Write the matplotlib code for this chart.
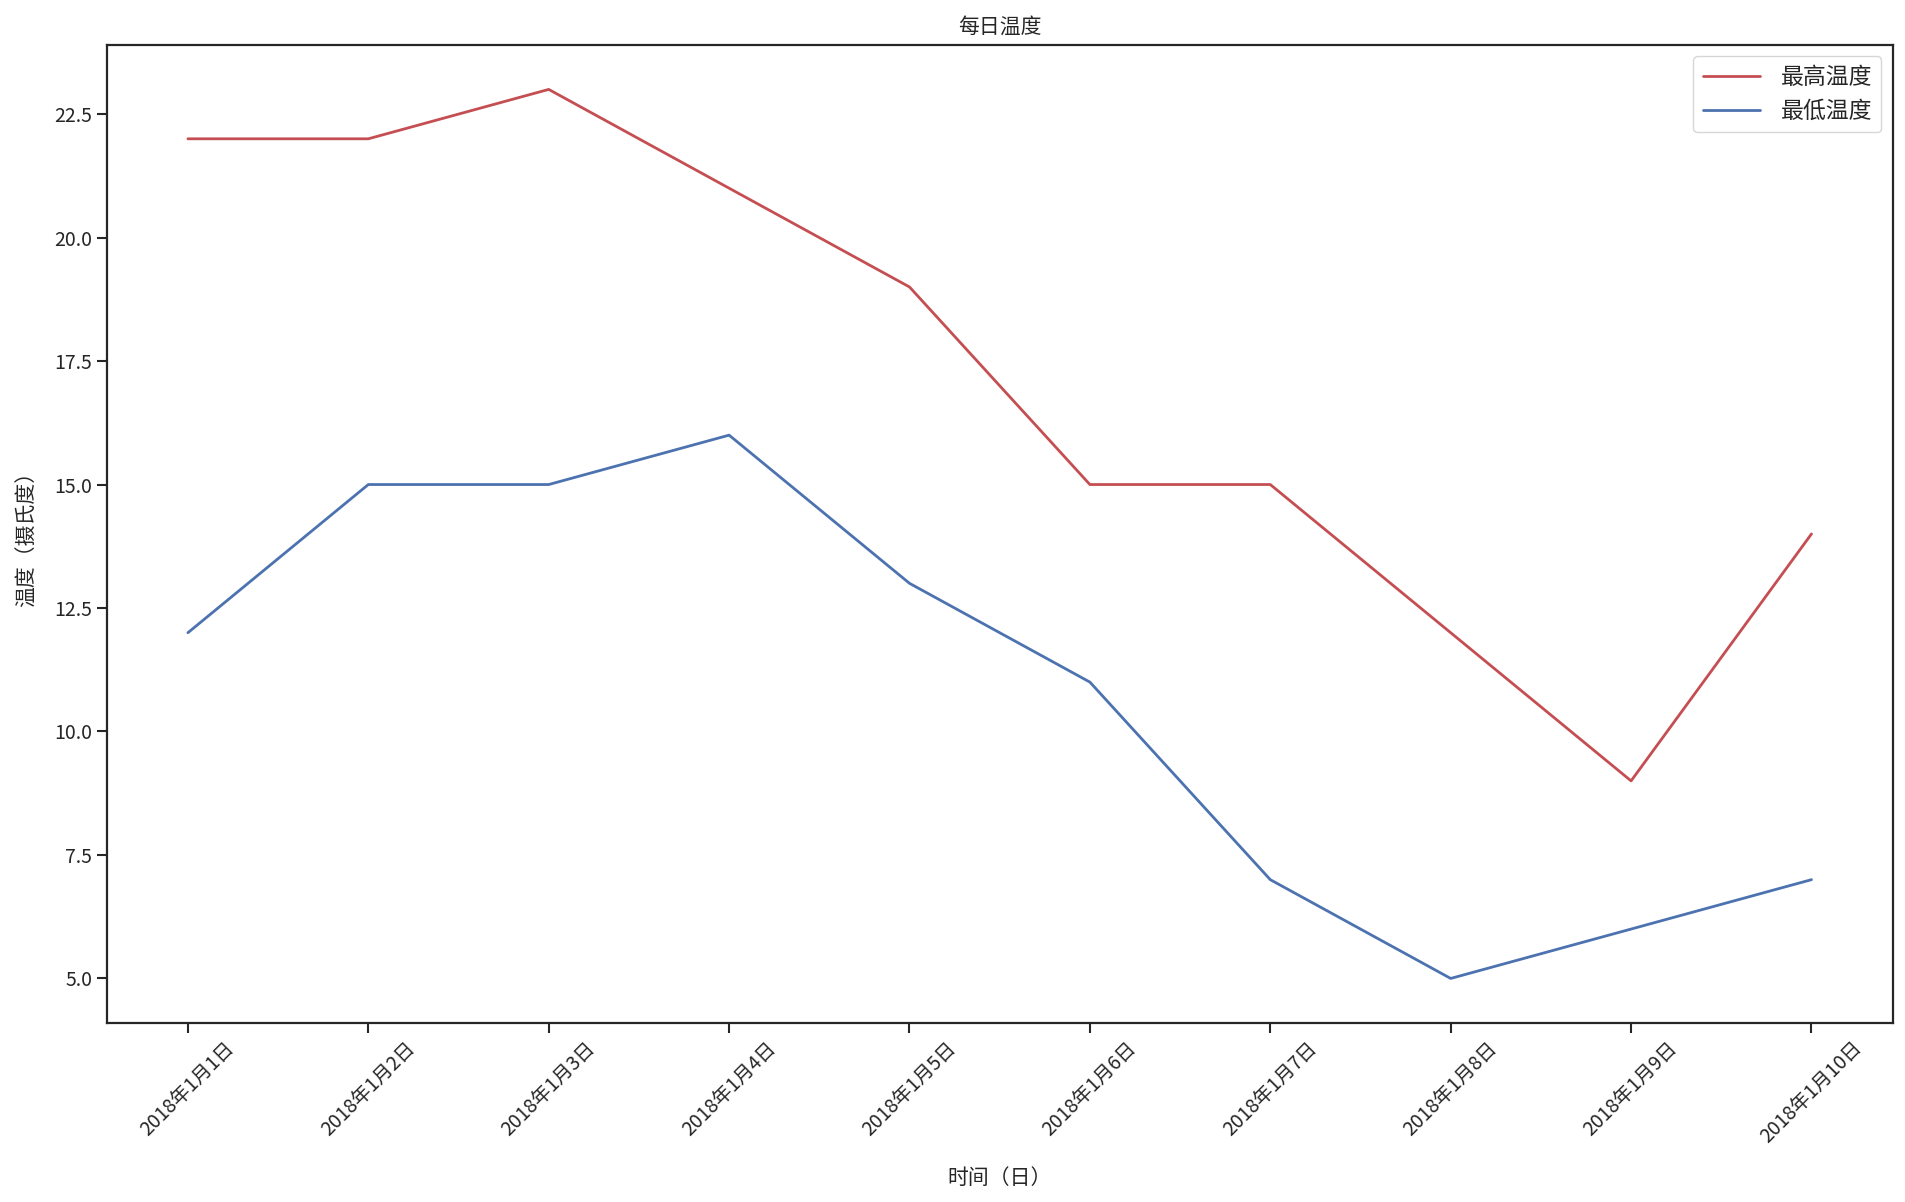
import matplotlib
matplotlib.use("Agg")
import matplotlib.pyplot as plt
import seaborn as sns

sns.set_style("ticks")
sns.set_color_codes()
plt.rcParams['font.family'] = ['Noto Sans CJK SC', 'DejaVu Sans']
plt.rcParams['axes.unicode_minus'] = False

days = ["2018年1月%d日" % d for d in range(1, 11)]
high_temp = [22, 22, 23, 21, 19, 15, 15, 12, 9, 14]
low_temp = [12, 15, 15, 16, 13, 11, 7, 5, 6, 7]

fig = plt.figure(figsize=(19.06, 12.02), dpi=100)
ax = fig.add_axes([0.056, 0.149, 0.937, 0.8136])

ax.plot(days, high_temp, 'r', lw=2, label='最高温度')
ax.plot(days, low_temp, 'b', lw=2, label='最低温度')

ax.set_title('每日温度', fontsize=15, pad=9)
ax.set_xlabel('时间（日）', fontsize=15, labelpad=14)
ax.set_ylabel('温度（摄氏度）', fontsize=15, labelpad=12)
ax.tick_params(labelsize=14, length=7, width=1.5)
for s in ax.spines.values():
    s.set_linewidth(1.6)
    s.set_color('#262626')
plt.setp(ax.get_xticklabels(), rotation=45)
ax.legend(loc='upper right', fontsize=16.5, handlelength=2.5,
          handletextpad=0.9, frameon=True)

fig.savefig("out.png", dpi=100)
